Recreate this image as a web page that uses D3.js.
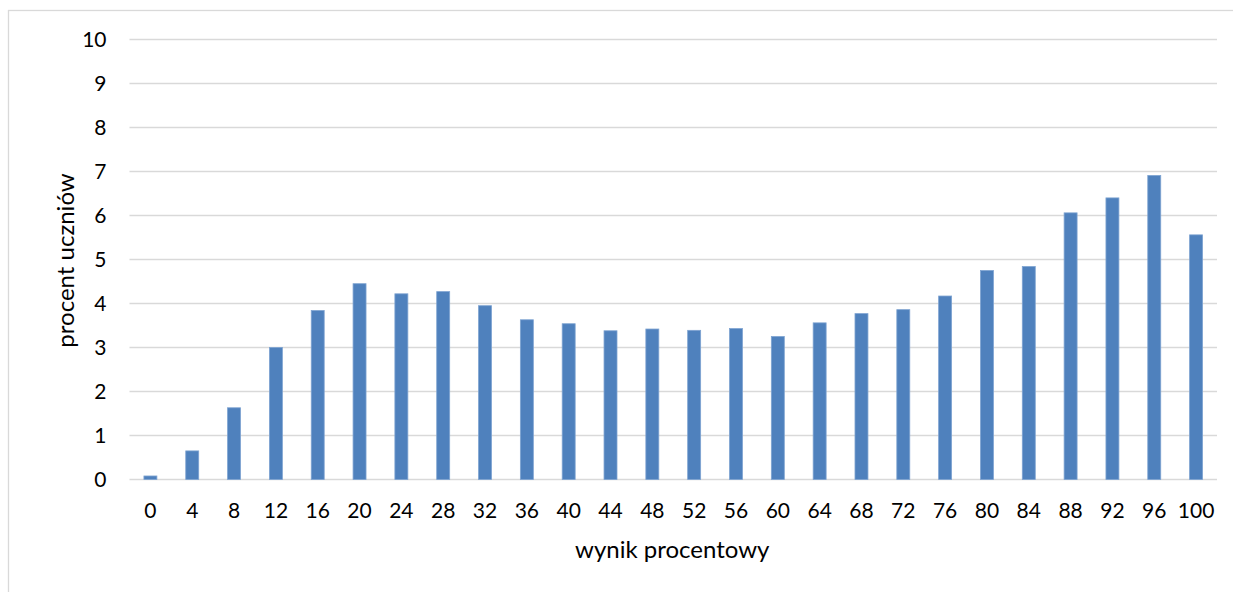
<!DOCTYPE html>
<html>
<head>
<meta charset="utf-8">
<script src="https://cdn.jsdelivr.net/npm/d3@7"></script>
<style>
  body { margin: 0; background: #fff; }
  text { font-family: Lato, "Open Sans", sans-serif; fill: #000; }
</style>
</head>
<body>
<div id="vis"></div>
<script>
var categories = ["0", "4", "8", "12", "16", "20", "24", "28", "32", "36", "40", "44", "48",
                  "52", "56", "60", "64", "68", "72", "76", "80", "84", "88", "92", "96", "100"];
var values = [0.08, 0.65, 1.63, 3.0, 3.84, 4.45, 4.22, 4.27, 3.95, 3.63, 3.54, 3.38, 3.42,
              3.39, 3.43, 3.25, 3.56, 3.77, 3.86, 4.17, 4.75, 4.84, 6.06, 6.40, 6.91, 5.56];
var y_ticks = [0, 1, 2, 3, 4, 5, 6, 7, 8, 9, 10];

var width = 1233, height = 592;
var plot = { left: 129.5, right: 1217, top: 39.5, bottom: 479.5 };

var svg = d3.select("#vis")
  .append("svg")
  .attr("width", width)
  .attr("height", height);

// chart frame, runs off the right and bottom edges
svg.append("rect")
  .attr("x", 8.5)
  .attr("y", 10.5)
  .attr("width", width)
  .attr("height", height)
  .attr("fill", "none")
  .attr("stroke", "#d9d9d9")
  .attr("stroke-width", 1.3);

var scales = {
  x: d3.scaleBand()
    .domain(categories)
    .range([plot.left, plot.right])
    .paddingInner(0.69)
    .paddingOuter(0.345),
  y: d3.scaleLinear()
    .domain([0, 10])
    .range([plot.bottom, plot.top])
};

// gridlines
svg.append("g")
  .selectAll("line")
  .data(y_ticks)
  .enter()
  .append("line")
  .attr("x1", plot.left)
  .attr("x2", plot.right)
  .attr("y1", function(d) { return scales.y(d); })
  .attr("y2", function(d) { return scales.y(d); })
  .attr("stroke", "#d9d9d9")
  .attr("stroke-width", 1.4);

// bars
svg.append("g")
  .selectAll("rect")
  .data(values)
  .enter()
  .append("rect")
  .attr("x", function(d, i) { return scales.x(categories[i]); })
  .attr("y", function(d) { return scales.y(d); })
  .attr("width", scales.x.bandwidth())
  .attr("height", function(d) { return scales.y(0) - scales.y(d); })
  .attr("fill", "#4f81bd")
  .attr("stroke", "#7ea3d1")
  .attr("stroke-width", 0.8);

var y_axis = d3.axisLeft(scales.y)
  .tickValues(y_ticks)
  .tickSize(0)
  .tickPadding(23);
svg.append("g")
  .attr("class", "y_axis")
  .attr("transform", "translate(" + plot.left + ",0)")
  .call(y_axis)
  .call(function(g) { g.select(".domain").remove(); });

var x_axis = d3.axisBottom(scales.x)
  .tickSize(0)
  .tickPadding(24);
svg.append("g")
  .attr("class", "x_axis")
  .attr("transform", "translate(0," + plot.bottom + ")")
  .call(x_axis)
  .call(function(g) { g.select(".domain").remove(); });

svg.selectAll(".x_axis text, .y_axis text")
  .attr("font-family", "Lato, 'Open Sans', sans-serif")
  .attr("font-size", 21)
  .attr("fill", "#000");

svg.append("text")
  .attr("x", (plot.left + plot.right) / 2 - 1)
  .attr("y", 558)
  .attr("text-anchor", "middle")
  .attr("font-size", 24)
  .text("wynik procentowy");

svg.append("text")
  .attr("transform", "translate(74," + ((plot.top + plot.bottom) / 2 + 1) + ")rotate(-90)")
  .attr("text-anchor", "middle")
  .attr("font-size", 24)
  .text("procent uczniów");
</script>
</body>
</html>
